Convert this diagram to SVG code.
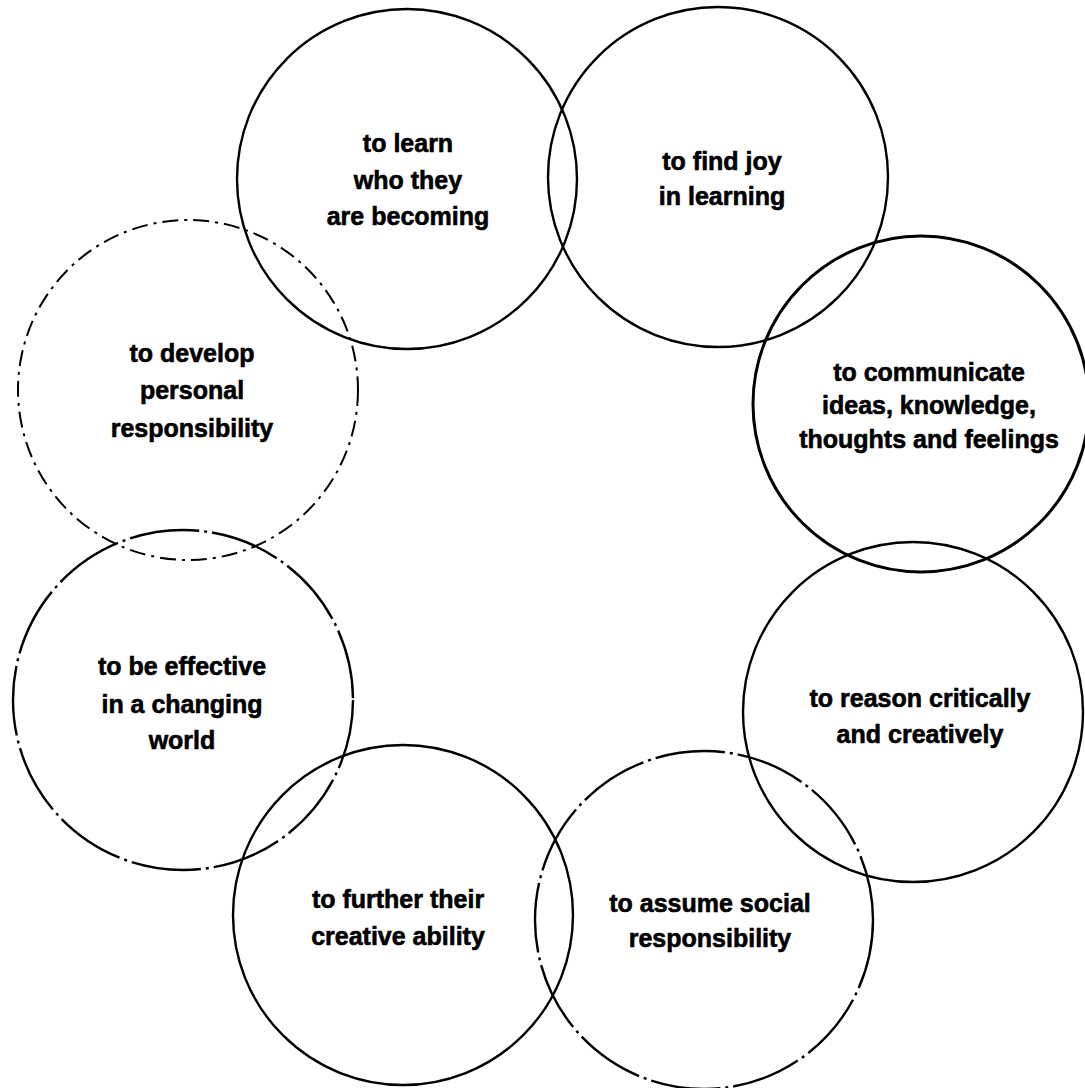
<svg xmlns="http://www.w3.org/2000/svg" width="1085" height="1088" viewBox="0 0 1085 1088">
  <style>
    .ring { fill: none; stroke: #000; stroke-width: 2.4; }
    .heavy { stroke-width: 3; }
    .dashdot { stroke-width: 2; stroke-dasharray: 16 6 3 6; }
    .longdash { stroke-dasharray: 70 5 3 5; }
    .label { font-family: "Liberation Sans", Arial, sans-serif; font-weight: bold; font-size: 25px; fill: #000; stroke: #000; stroke-width: 0.6; text-anchor: middle; }
  </style>
  <rect width="1085" height="1088" fill="#fff"/>

  <g id="connectors"/>

  <g id="node-learn">
    <circle class="ring" cx="407" cy="179" r="170"/>
    <text class="label" x="408" y="152">to learn</text>
    <text class="label" x="408" y="189">who they</text>
    <text class="label" x="408" y="225">are becoming</text>
  </g>

  <g id="node-joy">
    <circle class="ring" cx="718" cy="177" r="170"/>
    <text class="label" x="722" y="170">to find joy</text>
    <text class="label" x="722" y="205">in learning</text>
  </g>

  <g id="node-communicate">
    <circle class="ring heavy" cx="921" cy="404" r="168"/>
    <text class="label" x="929" y="381">to communicate</text>
    <text class="label" x="929" y="414">ideas, knowledge,</text>
    <text class="label" x="929" y="448">thoughts and feelings</text>
  </g>

  <g id="node-reason">
    <circle class="ring" cx="913" cy="712" r="170"/>
    <text class="label" x="920" y="707">to reason critically</text>
    <text class="label" x="920" y="743">and creatively</text>
  </g>

  <g id="node-social">
    <circle class="ring longdash" cx="704" cy="920" r="169"/>
    <text class="label" x="710" y="912">to assume social</text>
    <text class="label" x="710" y="947">responsibility</text>
  </g>

  <g id="node-creative">
    <circle class="ring" cx="403" cy="915" r="170"/>
    <text class="label" x="398" y="908">to further their</text>
    <text class="label" x="398" y="945">creative ability</text>
  </g>

  <g id="node-effective">
    <circle class="ring longdash" cx="183" cy="700" r="170"/>
    <text class="label" x="182" y="675">to be effective</text>
    <text class="label" x="182" y="713">in a changing</text>
    <text class="label" x="182" y="749">world</text>
  </g>

  <g id="node-personal">
    <circle class="ring dashdot" cx="188" cy="390" r="170"/>
    <text class="label" x="192" y="362">to develop</text>
    <text class="label" x="192" y="399">personal</text>
    <text class="label" x="192" y="437">responsibility</text>
  </g>
</svg>
